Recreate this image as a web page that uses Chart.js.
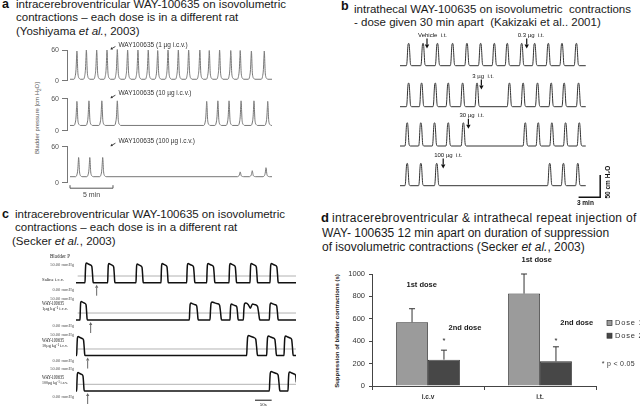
<!DOCTYPE html>
<html>
<head>
<meta charset="utf-8">
<title>WAY-100635 on isovolumetric bladder contractions</title>
<script src="https://cdn.jsdelivr.net/npm/chart.js@4.4.1/dist/chart.umd.min.js"></script>
<style>
  body { margin: 0; background: #fff; }
  #page { position: relative; width: 640px; height: 410px; overflow: hidden; font-family: "Liberation Sans", Arial, sans-serif; }
  canvas { position: absolute; }
  .title { position: absolute; font-size: 11.5px; line-height: 13.4px; color: #1a1a1a; white-space: nowrap; }
  .letter { position: absolute; font-size: 12.5px; line-height: 13.4px; font-weight: bold; color: #111; }
  .rot { position: absolute; white-space: nowrap; transform: translate(-50%, -50%) rotate(-90deg); }
</style>
</head>
<body>
<div id="page">
  <div class="letter" style="left:2px;top:-2px">a</div>
  <div class="title" style="left:16px;top:-2px">intracerebroventricular WAY-100635 on isovolumetric<br>contractions – each dose is in a different rat<br>(Yoshiyama <i>et al.</i>, 2003)</div>

  <div class="letter" style="left:341px;top:0px">b</div>
  <div class="title" style="left:354px;top:3px">intrathecal WAY-100635 on isovolumetric&nbsp; contractions<br>- dose given 30 min apart&nbsp; (Kakizaki et al.. 2001)</div>

  <div class="letter" style="left:2px;top:208px">c</div>
  <div class="title" style="left:15px;top:208px">intracerebroventricular WAY-100635 on isovolumetric<br>contractions – each dose is in a different rat<br><span style="margin-left:-3px">(Secker <i>et al.</i>, 2003)</span></div>

  <div class="letter" style="left:321px;top:211px;font-size:13px">d</div>
  <div class="title" style="left:322px;top:211px;font-size:12px;line-height:14.6px"><span style="margin-left:10px;letter-spacing:0.3px">intracerebroventricular &amp; intrathecal repeat injection of</span><br>WAY- 100635 12 min apart on duration of suppression<br>of isovolumetric contractions (Secker <i>et al.</i>, 2003)</div>

  <div class="rot" style="left:38px;top:118px;font-size:6px;color:#555">Bladder pressure [cm H<sub style="font-size:4.5px">2</sub>O]</div>
  <div class="rot" style="left:337px;top:331px;font-size:6px;font-weight:bold;color:#222">Suppression of bladder contractions (s)</div>
</div>

<script>
// ---- a: Yoshiyama et al. 2003 (time in min, pressure in cm H2O) ----
const aTimes1 = [0.8, 1.9, 3.1, 4.3, 5.5, 6.7, 7.9, 9.1, 10.2, 11.4, 12.6, 13.8, 15.1, 16.2, 17.4, 18.7, 19.8, 21.1, 22.6];
const aHeights1 = [58, 60, 60, 60, 61, 60, 60, 60, 59, 60, 60, 60, 60, 59, 60, 59, 59, 58, 58];
const aTimes2 = [0.8, 2.2, 3.7, 5.5, 15.9, 17.2, 18.5, 19.9, 21.4, 23.0];
const aHeights2 = [55, 56, 56, 56, 55, 56, 56, 56, 56, 55];
const aTimes3 = [1.0, 2.3, 3.8, 19.8, 21.2, 22.8];
const aHeights3 = [42, 42, 42, 18, 20, 25];
const aBaselines = [3, 10, 10];
const aDoseTime = 4.7;
const aDoseLabels = ["WAY100635 (1 µg i.c.v.)", "WAY100635 (10 µg i.c.v.)", "WAY100635 (100 µg i.c.v.)"];
const aTicks = [0, 60];
const aEnd = 23.5;
// one contraction: [min from peak, fraction of peak]
const aShape = [[-0.35, 0], [-0.2, 0.1], [-0.1, 0.35], [-0.04, 0.75], [0, 1], [0.03, 0.9], [0.07, 0.55], [0.11, 0.25], [0.17, 0.1], [0.28, 0.03], [0.4, 0]];

// ---- b: Kakizaki et al. 2001 (time in min, cm H2O above baseline) ----
const bTimes = [
  [1.2, 3.2, 5.2, 7.3, 9.3, 11.2, 13.1, 14.9, 16.9, 18.7, 20.6, 22.5, 24.5],
  [1.2, 3.0, 4.9, 6.7, 8.7, 10.7, 15.2, 17.1, 19.1, 21.0, 22.8, 24.8],
  [1.0, 2.9, 4.8, 6.7, 8.8, 17.4, 19.2, 21.1, 23.0, 24.9],
  [1.0, 2.9, 5.1, 20.8, 22.7, 24.7]
];
const bHeights = [50, 53, 52, 50];
const bDoseTimes = [[3.75, 17.6], [11.3], [9.5], [6.0]];
const bDoseLabels = [["Vehicle  i.t.", "0.3 µg  i.t."], ["3 µg  i.t."], ["30 µg  i.t."], ["100 µg  i.t."]];
const bEnd = 25.8;
const bScaleMin = 3, bScaleCm = 50;
const bShape = [[-0.32, 0], [-0.22, 0.2], [-0.14, 0.7], [-0.07, 0.97], [0.01, 1], [0.08, 0.93], [0.15, 0.6], [0.23, 0.15], [0.32, 0.02], [0.42, 0]];

// ---- c: Secker et al. 2003 (time in s, mmHg) ----
const cOnsets = [
  [27, 95, 180, 255, 332, 392, 459, 522, 582],
  [12, 340, 402, 462, 502, 580],
  [2, 512, 572, 624],
  [2, 580, 636]
];
const cDurations = [
  [25, 22, 22, 22, 25, 25, 23, 23, 25],
  [22, 27, 35, 25, 50, 27],
  [25, 33, 30, 28],
  [23, 32, 28]
];
const cHeights = [
  [54, 53, 52, 53, 53, 53, 53, 53, 53],
  [46, 43, 45, 41, 43, 43],
  [47, 49, 48, 48],
  [44, 46, 45]
];
const cBaselines = [14.6, 11.2, 10.5, 10.4];
const cRefLevels = [28, 24.3, 23.1, 22.6];
const cDoseTimes = [62, 44, 35, 35];
const cDoseLabels = [["Saline i.c.v."], ["WAY-100635", "1µg kg⁻¹ i.c.v."], ["WAY-100635", "10µg kg⁻¹ i.c.v."], ["WAY-100635", "100µg kg⁻¹ i.c.v."]];
const cDouble = { trace: 1, pulse: 4 };   // the double-humped contraction
const cEnd = 660;
const cBarSec = 50;
// plateau contraction: [fraction of duration, fraction of height]
const cShape = [[0, 0], [0.04, 0.5], [0.09, 0.92], [0.18, 1], [0.4, 0.95], [0.65, 0.9], [0.82, 0.82], [0.9, 0.45], [0.96, 0.08], [1, 0]];
const cNotchShape = [[0, 0], [0.03, 0.6], [0.07, 0.95], [0.15, 1], [0.3, 0.9], [0.42, 0.7], [0.55, 0.95], [0.7, 0.9], [0.85, 0.8], [0.92, 0.4], [0.97, 0.06], [1, 0]];

// ---- d: Secker et al. 2003 bar chart ----
const dCategories = ["i.c.v", "i.t."];
const dSeries = ["Dose 1", "Dose 2"];
const dDose1 = [570, 825];
const dDose2 = [235, 220];
const dDose1Err = [120, 175];
const dDose2Err = [85, 130];

const FONT = '"Liberation Sans", Arial, sans-serif';
const SERIF = '"Liberation Serif", "Times New Roman", serif';

function pulseTrain(times, heights, base, shape, tEnd) {
  const pts = [{ x: 0, y: base }];
  times.forEach((t, i) => shape.forEach(([dt, f]) => pts.push({ x: t + dt, y: base + (heights[i] - base) * f })));
  pts.push({ x: tEnd, y: base });
  return pts;
}

function plateauTrain(k) {
  const base = cBaselines[k];
  const pts = [{ x: 0, y: base }];
  cOnsets[k].forEach((t0, i) => {
    const shape = (k === cDouble.trace && i === cDouble.pulse) ? cNotchShape : cShape;
    shape.forEach(([f, r]) => pts.push({ x: t0 + f * cDurations[k][i], y: base + (cHeights[k][i] - base) * r }));
  });
  if (pts[pts.length - 1].x < cEnd) pts.push({ x: cEnd, y: base });
  return pts;
}

function arrow(ctx, x, yFrom, yTo, head) {
  const s = yTo > yFrom ? 1 : -1;
  ctx.beginPath(); ctx.moveTo(x, yFrom); ctx.lineTo(x, yTo - s * head); ctx.stroke();
  ctx.beginPath(); ctx.moveTo(x, yTo); ctx.lineTo(x - head * 0.55, yTo - s * head); ctx.lineTo(x + head * 0.55, yTo - s * head);
  ctx.closePath(); ctx.fill();
}

function placeCanvas(area, m) {
  const cv = document.createElement('canvas');
  const left = Math.floor(area.x - m.l), top = Math.floor(area.y - m.t);
  cv.width = Math.ceil(area.x + area.w + m.r) - left;
  cv.height = Math.ceil(area.y + area.h + m.b) - top;
  const pad = { left: area.x - left, top: area.y - top };
  pad.right = cv.width - pad.left - area.w;
  pad.bottom = cv.height - pad.top - area.h;
  cv.style.left = left + 'px';
  cv.style.top = top + 'px';
  document.getElementById('page').appendChild(cv);
  return { cv, pad };
}

function traceChart(area, m, datasets, xr, yr, extra, yAxis) {
  const { cv, pad } = placeCanvas(area, m);
  const scales = {
    x: { type: 'linear', display: false, min: xr[0], max: xr[1] },
    y: { type: 'linear', display: false, min: yr[0], max: yr[1] }
  };
  if (yAxis) {
    const w = pad.left;
    scales.y = Object.assign(scales.y, yAxis, { display: true, afterFit: s => { s.width = w; } });
    pad.left = 0;
  }
  return new Chart(cv, {
    type: 'line',
    data: { datasets },
    options: {
      responsive: false, animation: false, events: [],
      layout: { padding: pad },
      plugins: { legend: { display: false }, tooltip: { enabled: false } },
      elements: { point: { radius: 0 }, line: { tension: 0.3, cubicInterpolationMode: 'monotone', borderJoinStyle: 'round' } },
      scales
    },
    plugins: [{ id: 'extras', afterDraw: extra }]
  });
}

// ---------- panel a ----------
const aAreas = [
  { x: 67, y: 50, w: 205, h: 35 },
  { x: 67, y: 98.7, w: 205, h: 36.3 },
  { x: 67, y: 146.7, w: 205, h: 36 }
];
const aSeries = [
  pulseTrain(aTimes1, aHeights1, aBaselines[0], aShape, aEnd),
  pulseTrain(aTimes2, aHeights2, aBaselines[1], aShape, aEnd),
  pulseTrain(aTimes3, aHeights3, aBaselines[2], aShape, aEnd)
];
aAreas.forEach((area, i) => {
  traceChart(area, { l: 22, t: 12, r: 4, b: i === 2 ? 16 : 3 },
    [{ data: aSeries[i], borderColor: '#777', borderWidth: 1, clip: { left: 2, top: 20, right: 2, bottom: 10 } }],
    [-0.35, aEnd], [0, 60],
    chart => {
      const { ctx, chartArea: ca, scales: { x } } = chart;
      const px = x.getPixelForValue(aDoseTime);
      ctx.save();
      ctx.fillStyle = '#333'; ctx.strokeStyle = '#333'; ctx.lineWidth = 0.9;
      ctx.beginPath(); ctx.moveTo(px + 5, ca.top - 3.5); ctx.lineTo(px + 1.5, ca.top - 1.5); ctx.stroke();
      ctx.beginPath(); ctx.moveTo(px, ca.top - 0.5); ctx.lineTo(px + 1, ca.top - 3); ctx.lineTo(px + 2.6, ca.top - 0.6); ctx.closePath(); ctx.fill();
      ctx.font = '6.5px ' + FONT; ctx.textBaseline = 'middle';
      ctx.fillText(aDoseLabels[i], px + 8, ca.top - 5);
      if (i === 2) {
        const x0 = x.getPixelForValue(0), x1 = x.getPixelForValue(5), yb = ca.bottom + 5.5;
        ctx.strokeStyle = '#555'; ctx.lineWidth = 1;
        ctx.beginPath(); ctx.moveTo(x0, yb - 3); ctx.lineTo(x0, yb); ctx.lineTo(x1, yb); ctx.lineTo(x1, yb - 3); ctx.stroke();
        ctx.fillStyle = '#444'; ctx.textAlign = 'center'; ctx.font = '7px ' + FONT;
        ctx.fillText('5 min', (x0 + x1) / 2, yb + 6.5);
      }
      ctx.restore();
    },
    {
      afterBuildTicks: s => { s.ticks = aTicks.map(v => ({ value: v })); },
      ticks: { font: { size: 7, family: FONT }, color: '#555', padding: 3 },
      grid: { drawOnChartArea: false, tickLength: 5, color: '#777' },
      border: { color: '#777', width: 1 }
    });
});

// ---------- panel b ----------
const bTops = [43.4, 84.4, 123.7, 163.4];
bTops.forEach((top, i) => {
  traceChart({ x: 400, y: top, w: 187.2, h: 22.3 }, { l: 6, t: 12, r: i === 3 ? 30 : 4, b: i === 3 ? 22 : 3 },
    [{ data: pulseTrain(bTimes[i], bTimes[i].map(() => bHeights[i]), 0, bShape, bEnd), borderColor: '#333', borderWidth: 1, clip: { left: 2, top: 20, right: 2, bottom: 10 } }],
    [0, 26], [0, 50],
    chart => {
      const { ctx, chartArea: ca, scales: { x, y } } = chart;
      ctx.save();
      ctx.fillStyle = '#111'; ctx.strokeStyle = '#111'; ctx.lineWidth = 1.2;
      ctx.font = '6px ' + FONT; ctx.textBaseline = 'middle';
      bDoseTimes[i].forEach((t, k) => {
        const px = x.getPixelForValue(t);
        ctx.fillText(bDoseLabels[i][k], px - 9, ca.top - 8);
        arrow(ctx, px, ca.top - 5, ca.top + 5, 4);
      });
      if (i === 3) {
        const xr = ca.right + 13, yb = y.getPixelForValue(0) + 11.6;
        const hl = x.getPixelForValue(bScaleMin) - x.getPixelForValue(0);
        const vl = y.getPixelForValue(0) - y.getPixelForValue(bScaleCm);
        ctx.lineWidth = 1.5;
        ctx.beginPath(); ctx.moveTo(xr - hl, yb); ctx.lineTo(xr, yb); ctx.lineTo(xr, yb - vl); ctx.stroke();
        ctx.font = 'bold 6.5px ' + FONT; ctx.textAlign = 'center';
        ctx.fillText('3 min', xr - hl / 2 - 4, yb + 6);
        ctx.translate(xr + 8.5, yb - vl / 2 - 4); ctx.rotate(-Math.PI / 2);
        ctx.fillText('50 cm H₂O', 0, 0);
      }
      ctx.restore();
    });
});

// ---------- panel c ----------
const cAreas = [
  { x: 76, y: 265, w: 220, h: 25 },
  { x: 76, y: 299.3, w: 220, h: 26.7 },
  { x: 76, y: 335, w: 220, h: 26 },
  { x: 76, y: 369.3, w: 220, h: 27.4 }
];
const cLabelY = [[14.3], [4.5, 9.2], [5.7, 10.7], [8.4, 13.4]];
cAreas.forEach((area, i) => {
  traceChart(area, { l: 40, t: i === 0 ? 12 : 6, r: 2, b: i === 3 ? 14 : 10 },
    [
      { data: plateauTrain(i), borderColor: '#111', borderWidth: 1.5, clip: { left: 2, top: 20, right: 0, bottom: 10 } },
      { data: [{ x: 5, y: cRefLevels[i] }, { x: cEnd, y: cRefLevels[i] }], borderColor: '#a0a0a0', borderWidth: 0.8, tension: 0 }
    ],
    [0, cEnd], [0, 50],
    chart => {
      const { ctx, chartArea: ca, scales: { x, y } } = chart;
      ctx.save();
      ctx.fillStyle = '#555'; ctx.textBaseline = 'middle';
      ctx.font = '4.5px ' + SERIF; ctx.textAlign = 'right';
      ctx.fillText(y.max.toFixed(2) + ' mmHg', ca.left - 2, ca.top - 0.5, 24);
      ctx.fillText(y.min.toFixed(2) + ' mmHg', ca.left - 2, ca.bottom, 23);
      ctx.textAlign = 'left'; ctx.fillStyle = '#222';
      cDoseLabels[i].forEach((s, k) => {
        ctx.font = (k === 0 && i > 0 ? '6px ' : '5px ') + SERIF;
        ctx.fillText(s, ca.left - 34, ca.top + cLabelY[i][k], k === 0 ? 22 : 26);
      });
      if (i === 0) { ctx.font = '5.5px ' + SERIF; ctx.fillText('Bladder P', ca.left - 26, ca.top - 8, 20); }
      const px = x.getPixelForValue(cDoseTimes[i]), yb = y.getPixelForValue(cBaselines[i]);
      ctx.strokeStyle = '#666'; ctx.fillStyle = '#666'; ctx.lineWidth = 1;
      arrow(ctx, px, yb + 13, yb + 2, 3);
      if (i === 3) {
        const x0 = ca.right - 41, x1 = x0 + (x.getPixelForValue(cBarSec) - x.getPixelForValue(0));
        ctx.strokeStyle = '#111';
        ctx.beginPath(); ctx.moveTo(x0, ca.bottom + 3.5); ctx.lineTo(x1, ca.bottom + 3.5); ctx.stroke();
        ctx.fillStyle = '#222'; ctx.font = '5px ' + SERIF; ctx.textAlign = 'center';
        ctx.fillText(cBarSec + 's', (x0 + x1) / 2, ca.bottom + 7.5);
      }
      ctx.restore();
    });
});

// ---------- panel d ----------
const dNotes = [
  { text: '1st dose', cat: 0, dx: -6.3, v: 904 },
  { text: '2nd dose', cat: 0, dx: 37, v: 522 },
  { text: '1st dose', cat: 1, dx: -3.3, v: 1122 },
  { text: '2nd dose', cat: 1, dx: 36.7, v: 567 }
];
const dErrors = [dDose1Err, dDose2Err];
const dColors = ['#9b9b9b', '#474747'];
const cvD = document.createElement('canvas');
cvD.width = 320; cvD.height = 160;
cvD.style.left = '320px'; cvD.style.top = '250px';
document.getElementById('page').appendChild(cvD);

new Chart(cvD, {
  type: 'bar',
  data: {
    labels: dCategories,
    datasets: [
      { label: dSeries[0], data: dDose1, backgroundColor: dColors[0], borderColor: '#2a2a2a', borderWidth: 0.8 },
      { label: dSeries[1], data: dDose2, backgroundColor: dColors[1], borderColor: '#2a2a2a', borderWidth: 0.8 }
    ]
  },
  options: {
    responsive: false, animation: false, events: [],
    layout: { padding: { left: 0, right: 44, top: 24, bottom: 4 } },
    plugins: { legend: { display: false }, tooltip: { enabled: false } },
    datasets: { bar: { categoryPercentage: 0.57, barPercentage: 1.0 } },
    scales: {
      x: {
        grid: { offset: true, drawOnChartArea: false, tickLength: 4, color: '#444' },
        border: { color: '#444' },
        ticks: { font: { size: 6.5, weight: 'bold', family: FONT }, color: '#333', padding: 3 },
        afterFit: s => { s.height = 20; }
      },
      y: {
        min: 0, max: 1000,
        ticks: { stepSize: 200, font: { size: 7.5, family: FONT }, color: '#333', padding: 4, callback: v => String(v) },
        grid: { drawOnChartArea: false, tickLength: 3, color: '#444' },
        border: { color: '#444' },
        afterFit: s => { s.width = 52; }
      }
    }
  },
  plugins: [{
    id: 'extras',
    afterDatasetsDraw(chart) {
      const { ctx, scales: { y } } = chart;
      ctx.save();
      ctx.strokeStyle = '#333'; ctx.lineWidth = 1;
      chart.data.datasets.forEach((ds, di) => {
        chart.getDatasetMeta(di).data.forEach((bar, k) => {
          const yt = y.getPixelForValue(ds.data[k] + dErrors[di][k]);
          ctx.beginPath(); ctx.moveTo(bar.x, bar.y); ctx.lineTo(bar.x, yt);
          ctx.moveTo(bar.x - 3, yt); ctx.lineTo(bar.x + 3, yt); ctx.stroke();
        });
      });
      ctx.restore();
    },
    afterDraw(chart) {
      const { ctx, chartArea: ca, scales: { x, y } } = chart;
      ctx.save();
      ctx.fillStyle = '#1a1a1a'; ctx.textBaseline = 'middle'; ctx.textAlign = 'center';
      ctx.font = 'bold 7.5px ' + FONT;
      dNotes.forEach(n => ctx.fillText(n.text, x.getPixelForValue(n.cat) + n.dx, y.getPixelForValue(n.v)));
      ctx.font = '7.5px ' + FONT;
      chart.getDatasetMeta(1).data.forEach(bar => ctx.fillText('*', bar.x, y.getPixelForValue(405)));
      ctx.textAlign = 'left';
      ctx.letterSpacing = '0.8px';
      chart.data.datasets.forEach((ds, di) => {
        const yc = 323 - 250 + di * 12.7;
        ctx.fillStyle = ds.backgroundColor; ctx.strokeStyle = '#333'; ctx.lineWidth = 0.7;
        ctx.fillRect(ca.right + 11, yc - 2.5, 5, 5); ctx.strokeRect(ca.right + 11, yc - 2.5, 5, 5);
        ctx.fillStyle = '#333'; ctx.font = '7.5px ' + FONT;
        ctx.fillText(ds.label, ca.right + 19, yc);
      });
      ctx.letterSpacing = '0.3px';
      ctx.font = '7px ' + FONT;
      ctx.fillText('* p < 0.05', ca.right + 5.7, 364 - 250);
      ctx.restore();
    }
  }]
});
</script>
</body>
</html>
